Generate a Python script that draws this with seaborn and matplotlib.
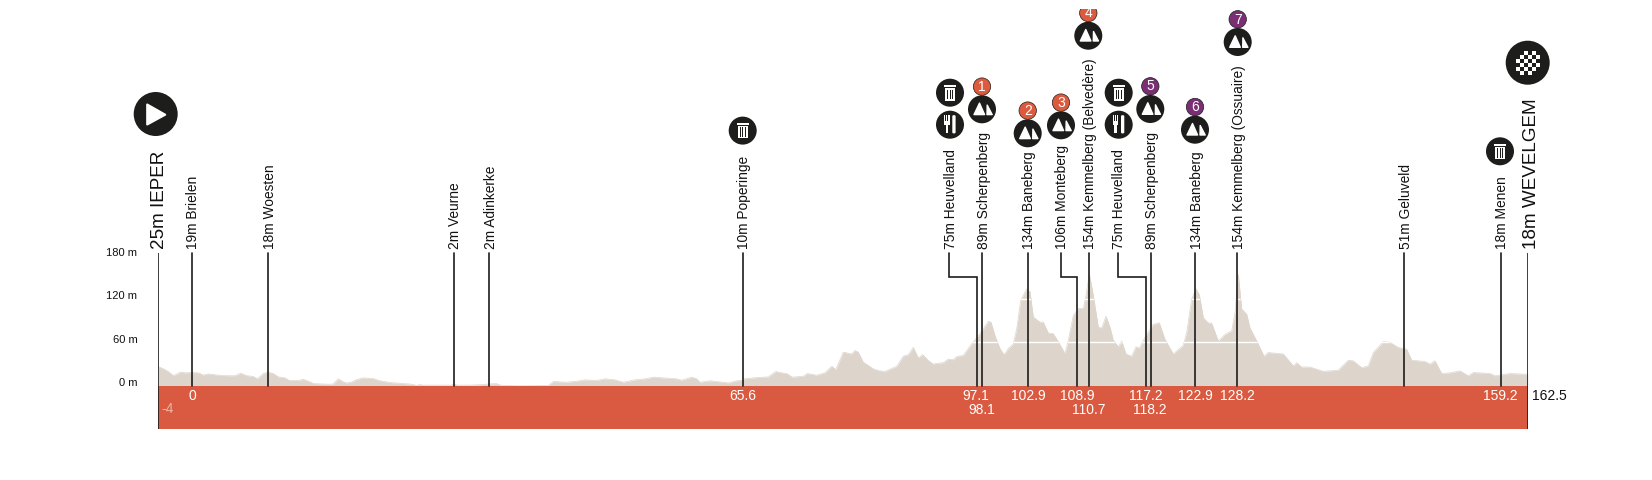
import numpy as np
import pandas as pd
import seaborn as sns
import matplotlib.pyplot as plt
from matplotlib.patches import Circle, Polygon, Rectangle, FancyBboxPatch
from matplotlib.transforms import ScaledTranslation

# course profile: position along the drawing, altitude in metres
profile_pos = [158.3, 159.3, 165, 170, 173.3, 180.7, 185, 191.7, 198.3, 203.3, 208.3, 216.7, 226.7, 235, 240.7, 246.7,
               253.3, 257.3, 263.3, 268.3, 273.3, 278.3, 285, 289.3, 298.3, 303.3, 310, 313.3, 320, 326.7, 332.7, 338.3,
               343.3, 346.7, 351.7, 356.7, 363.3, 373.3, 380, 390, 403.3, 411.7, 416.7, 419.3, 423.3, 443.3, 451.7, 454,
               456.7, 470, 483.3, 490, 496.7, 499.3, 503.3, 520, 548.3, 553.3, 566.7, 576.7, 585, 596.7, 605, 615, 623.3,
               635, 645, 653.3, 666.7, 676.7, 681.7, 691.7, 696.7, 700, 710, 720, 728.3, 736.7, 741.7, 744, 753.3, 763.3,
               768.3, 775.7, 781.7, 786.7, 792.3, 803.3, 807.3, 816.7, 825, 831.7, 835.7, 843.3, 848.3, 851.7, 855, 858.3,
               863.3, 873.3, 878.3, 885, 896.7, 903.3, 908.3, 913.3, 918.3, 922.7, 928.3, 933.3, 936.7, 943.3, 948.3,
               953.3, 956.7, 963.3, 971.7, 980, 988.3, 991, 995, 1000, 1004, 1008.3, 1013.3, 1016.7, 1020.7, 1026.7, 1030,
               1033.3, 1040, 1043.3, 1048.3, 1053.3, 1058.3, 1065, 1068.3, 1073.3, 1078.3, 1083.3, 1086, 1089.3, 1093.3,
               1098.3, 1101.7, 1106, 1110, 1113.3, 1118.3, 1121.7, 1126, 1131.7, 1136, 1139.3, 1145, 1153.3, 1159.3, 1165,
               1173.3, 1183.3, 1186.7, 1191.7, 1196, 1199.3, 1203.3, 1208.3, 1211.7, 1218.3, 1225, 1231.7, 1235, 1238.3,
               1241.7, 1246.7, 1250, 1256.7, 1264, 1268.3, 1283.3, 1293.3, 1296.7, 1301.7, 1310, 1323.3, 1338.3, 1348.3,
               1353.3, 1361.7, 1368.3, 1373.3, 1383.3, 1390, 1398.3, 1406.7, 1411.7, 1425, 1430, 1435, 1441.7, 1450, 1460,
               1468.3, 1473.3, 1490, 1495, 1510, 1527.7]
profile_alt = [26, 26, 22.5, 18, 14, 19, 18, 18.4, 18, 15, 16.5, 15, 14, 14, 17.5, 14,
               13, 9.7, 17, 19, 17, 12.4, 11, 7.4, 7.4, 9, 5.5, 3.2, 2.8, 2.3, 2.3, 9.7,
               5.5, 4, 5.5, 8.7, 11, 10, 7, 4.6, 3.2, 2.3, 0.5, 1.8, 1, 1, 1, 3,
               1, 1, 1.8, 2.8, 3, 1.4, 0.5, 0, 0.5, 6, 5, 6.4, 8.3, 7.4, 9.7, 8.3, 5,
               8.3, 9.7, 12, 10.6, 9.7, 7.8, 12, 9.7, 5, 7, 5.5, 4, 7, 7.4, 9.7, 11, 12,
               12.4, 19.8, 18, 17, 12, 13.3, 17, 14.7, 18, 27, 22.5, 46.5, 45, 44, 48.8, 46.5,
               32.7, 23.5, 21, 20, 27, 41, 43, 53, 38.6, 43, 35, 30, 31, 32, 37,
               36, 40.5, 42, 58, 72, 89, 88, 69, 51.5, 43, 51.5, 58, 79, 118, 134, 130,
               95, 88, 88, 73, 72, 61, 44.6, 63, 97.5, 106.7, 107, 125, 155, 125,
               81, 80, 96, 81, 63, 54, 62, 44, 41, 54, 52, 67, 85, 87, 64,
               44, 56, 74, 120, 134, 126, 94, 87, 86.5, 62, 71, 76, 101, 154,
               106, 99, 80, 62, 41, 46, 44, 27.6, 32, 26, 26, 20, 21.6, 35.4,
               34.5, 25, 27.6, 46, 61, 60, 53, 50.6, 35.4, 33.6, 30, 34.5, 17, 18, 20.7,
               13.8, 18.4, 17, 13.8, 17, 16]

y_ticks = [0, 60, 120, 180]
y_tick_labels = ['0 m', '60 m', '120 m', '180 m']

# passages
marker_pos = [191.7, 268, 453.7, 489.3, 742.7, 977.3, 982.3, 1027.7, 1077, 1088.7, 1146, 1150.7, 1195, 1237, 1404.3, 1500.7]
marker_label_pos = [191.7, 268, 453.7, 489.3, 742.7, 949.3, 982.3, 1027.7, 1060.7, 1088.7, 1117.7, 1150.7, 1195, 1237, 1404.3, 1500.7]
marker_names = ['19m Brielen', '18m Woesten', '2m Veurne', '2m Adinkerke', '10m Poperinge', '75m Heuvelland',
                '89m Scherpenberg', '134m Baneberg', '106m Monteberg', '154m Kemmelberg (Belvedère)', '75m Heuvelland',
                '89m Scherpenberg', '134m Baneberg', '154m Kemmelberg (Ossuaire)', '51m Geluveld', '18m Menen']

km_labels = ['0', '65.6', '97.1', '98.1', '102.9', '108.9', '110.7', '117.2', '118.2', '122.9', '128.2', '159.2']
km_label_pos = [192, 742.7, 975.3, 982, 1028, 1077, 1089, 1146, 1150, 1195, 1237, 1500.7]
km_label_row = [0, 0, 0, 1, 0, 0, 1, 0, 1, 0, 0, 0]

# climbs: position, icon height, number, category colour
climb_x = [982, 1027.7, 1061, 1088.3, 1150.3, 1195, 1237.7]
climb_y = [109.3, 133.3, 125.3, 35.7, 109, 129.7, 42]
climb_nr = ['1', '2', '3', '4', '5', '6', '7']
climb_col = ['#dc5a3e', '#dc5a3e', '#dc5a3e', '#dc5a3e', '#7a2f75', '#7a2f75', '#7a2f75']

trash_x = [950, 1118.7, 742.7, 1500]
trash_y = [92.7, 92.7, 130.6, 151.3]
fork_x = [950, 1118.7]
fork_y = [124.7, 124.7]

dark = '#1d1d1b'
W, H = 1652, 480
X0, X1 = 158.3, 1527.7

sns.set_theme(style='white')
plt.rcParams['font.family'] = ['Liberation Sans', 'DejaVu Sans']

fig = plt.figure(figsize=(W / 100, H / 100), dpi=100, facecolor='white')

# chart area: 0.725 px per metre, band from 0 to -60
ax = fig.add_axes([X0 / W, (H - 429.3) / H, (X1 - X0) / W, (429.3 - 252.6) / H])
ax.set_xlim(X0, X1)
ax.set_ylim(-60, 184)
ax.patch.set_alpha(0)
sns.despine(ax=ax, left=True, bottom=True)

df = pd.DataFrame({'pos': profile_pos, 'alt': profile_alt})
fill = ax.fill_between(df['pos'], 0, df['alt'], color='#ddd5cc', lw=0, zorder=1)
sns.lineplot(data=df, x='pos', y='alt', ax=ax, color='#ddd5cc', lw=0.5, estimator=None, sort=False, zorder=1)

# white grid only shows inside the profile
grid = ax.hlines([60, 120], X0, X1, color='white', lw=1, zorder=2)
grid.set_clip_path(fill.get_paths()[0], ax.transData)

ax.fill_between([X0, X1], -60, 0, color='#d95a40', lw=0, zorder=3)

ax.set_xlabel('')
ax.set_ylabel('')
ax.set_xticks([])
ax.set_yticks(y_ticks)
ax.set_yticklabels(y_tick_labels, fontsize=8, color='#111111')
ax.tick_params(axis='y', length=0, pad=15)
for lab in ax.get_yticklabels():
    lab.set_transform(lab.get_transform() + ScaledTranslation(0, 3.6 / 100, fig.dpi_scale_trans))

# passage lines, some jog over to their label
for p, lp in zip(marker_pos, marker_label_pos):
    if p == lp:
        ax.plot([p, p], [0, 184], color=dark, lw=1.2, zorder=4, clip_on=False)
    else:
        ax.plot([lp, lp, p, p], [184, 150, 150, 0], color=dark, lw=1.2, zorder=4, clip_on=False,
                solid_joinstyle='miter')
ax.plot([X0, X0], [-60, 184], color=dark, lw=1.2, zorder=4)
ax.plot([X1, X1], [-60, 184], color=dark, lw=1.2, zorder=4)

# overlay in picture coordinates for the labels and icons
ov = fig.add_axes([0, 0, 1, 1])
ov.set_xlim(0, W)
ov.set_ylim(H, 0)
ov.axis('off')
ov.patch.set_alpha(0)

for lp, name in zip(marker_label_pos, marker_names):
    ov.text(lp + 1.5, 249, name, rotation=90, ha='center', va='bottom', fontsize=9.9, color='#111111')
ov.text(159.5, 249, '25m IEPER', rotation=90, ha='center', va='bottom', fontsize=13.6, color='#111111')
ov.text(1531.5, 249, '18m WEVELGEM', rotation=90, ha='center', va='bottom', fontsize=13.6, color='#111111')

for lab, x, row in zip(km_labels, km_label_pos, km_label_row):
    ov.text(x, 396 + row * 13.5, lab, ha='center', va='center', fontsize=10, color='white', zorder=6)
ov.text(167.7, 409.3, '-4', ha='center', va='center', fontsize=10, color='#f0b4a4', zorder=6)
ov.text(1549.5, 396, '162.5', ha='center', va='center', fontsize=10, color='#111111')


def disc(x, y, r=14):
    ov.add_patch(Circle((x, y), r, fc=dark, ec='none', zorder=7))


def shape(x, y, pts, col='white', lw=1.0):
    pts = [(x + a, y + b) for a, b in pts]
    ov.add_patch(Polygon(pts, closed=True, fc=col, ec=col, lw=lw, joinstyle='round', zorder=8))


def box(x, y, x0, y0, w, h, col='white'):
    ov.add_patch(Rectangle((x + x0, y + y0), w, h, fc=col, ec='none', zorder=9 if col == dark else 8))


def trash(x, y):
    disc(x, y)
    box(x, y, -6, -7.6, 12, 2)
    box(x, y, -5, -4.6, 10, 12.4)
    for d in [-3, -0.5, 2]:
        box(x, y, d, -3.2, 1, 9.8, dark)


def fork(x, y):
    disc(x, y)
    for d in [-6, -3.9, -1.8]:
        box(x, y, d, -9.5, 1.3, 7)
    box(x, y, -6, -3.5, 5.6, 3.4)
    box(x, y, -4.5, -1, 2.6, 9.7)
    ov.add_patch(FancyBboxPatch((x + 2.6, y - 9.2), 2.7, 17.6, boxstyle='round,pad=0.3,rounding_size=1.2',
                                fc='white', ec='none', zorder=8))


def mountain(x, y):
    disc(x, y)
    shape(x, y, [(-2.5, -6.2), (2.6, 5.3), (-8, 5.3)])
    shape(x, y, [(5.2, -4.2), (10.2, 5.3), (5, 5.3)])


for x, y, nr, col in zip(climb_x, climb_y, climb_nr, climb_col):
    mountain(x, y)
    ov.add_patch(Circle((x, y - 22.7), 8.7, fc=col, ec=dark, lw=0.5, zorder=7))
    ov.text(x, y - 22.5, nr, ha='center', va='center', fontsize=10, color='white', zorder=8)
for x, y in zip(trash_x, trash_y):
    trash(x, y)
for x, y in zip(fork_x, fork_y):
    fork(x, y)

# start
disc(155.7, 114, 22)
shape(155.7, 114, [(-8.5, -9.5), (-8.5, 10.5), (9.5, 0.7)], lw=1.5)

# finish, checkered flag
disc(1527.7, 62.7, 22)
cell = 4
for i in range(6):
    for j in range(6):
        if (i + j) % 2 == 0 and (i, j) not in [(0, 0), (5, 5)]:
            box(1527.7, 62.7, (i - 3) * cell, (j - 3) * cell, cell, cell)

# picture is cut off at the top
ov.add_patch(Rectangle((1060, 0), 60, 9, fc='white', ec='none', zorder=10))

fig.savefig('out.png', dpi=100)
